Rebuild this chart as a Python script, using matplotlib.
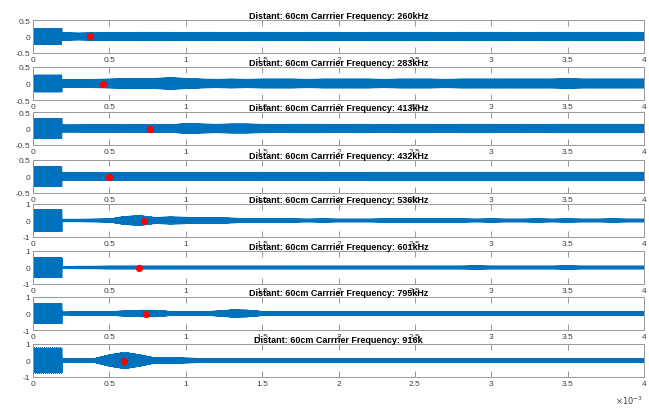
import numpy as np
import matplotlib.pyplot as plt

plt.rcParams['font.family'] = ['Liberation Sans', 'DejaVu Sans']
plt.rcParams['axes.unicode_minus'] = False

# carrier frequencies (kHz) and title tags
carriers = [260, 283, 413, 432, 536, 601, 795, 916]
tags = ['260kHz', '283kHz', '413kHz', '432kHz', '536kHz', '601kHz', '795kHz', '916k']

# amplitude of the first burst (0 - 0.19 ms)
burst_amp = [0.25, 0.26, 0.31, 0.31, 0.66, 0.62, 0.62, 0.76]
burst_end = 0.19  # ms

# envelope after the burst, one value every 0.1 ms from 0.2 ms to 4.0 ms
env1 = [0.12, 0.11, 0.12, 0.12, 0.12, 0.13, 0.13, 0.13, 0.12, 0.13,
        0.13, 0.12, 0.13, 0.13, 0.13, 0.12, 0.13, 0.13, 0.13, 0.12,
        0.13, 0.13, 0.13, 0.13, 0.13, 0.12, 0.13, 0.13, 0.13, 0.13,
        0.12, 0.13, 0.13, 0.13, 0.13, 0.13, 0.13, 0.13, 0.13]
env2 = [0.12, 0.12, 0.13, 0.14, 0.15, 0.15, 0.16, 0.18, 0.16, 0.14,
        0.13, 0.14, 0.13, 0.14, 0.14, 0.14, 0.13, 0.14, 0.14, 0.14,
        0.14, 0.13, 0.14, 0.14, 0.14, 0.13, 0.14, 0.14, 0.14, 0.14,
        0.14, 0.14, 0.14, 0.15, 0.14, 0.14, 0.14, 0.14, 0.14]
env3 = [0.11, 0.11, 0.12, 0.12, 0.11, 0.12, 0.12, 0.12, 0.15, 0.14,
        0.13, 0.14, 0.14, 0.13, 0.12, 0.13, 0.13, 0.13, 0.12, 0.13,
        0.13, 0.12, 0.13, 0.13, 0.13, 0.12, 0.13, 0.13, 0.13, 0.12,
        0.13, 0.12, 0.13, 0.13, 0.13, 0.13, 0.13, 0.13, 0.13]
env4 = [0.11, 0.12, 0.12, 0.12, 0.12, 0.12, 0.12, 0.12, 0.12, 0.12,
        0.12, 0.12, 0.12, 0.13, 0.12, 0.12, 0.12, 0.13, 0.12, 0.12,
        0.13, 0.13, 0.13, 0.13, 0.13, 0.13, 0.13, 0.13, 0.13, 0.13,
        0.13, 0.13, 0.13, 0.13, 0.13, 0.13, 0.13, 0.13, 0.13]
env5 = [0.08, 0.08, 0.09, 0.10, 0.25, 0.30, 0.19, 0.22, 0.20, 0.17,
        0.18, 0.15, 0.12, 0.11, 0.10, 0.10, 0.09, 0.10, 0.09, 0.09,
        0.09, 0.10, 0.11, 0.12, 0.13, 0.12, 0.10, 0.09, 0.10, 0.09,
        0.09, 0.10, 0.09, 0.10, 0.09, 0.09, 0.10, 0.09, 0.09]
env6 = [0.07, 0.08, 0.08, 0.09, 0.09, 0.09, 0.09, 0.09, 0.09, 0.09,
        0.09, 0.09, 0.09, 0.09, 0.09, 0.09, 0.09, 0.09, 0.09, 0.09,
        0.09, 0.09, 0.09, 0.09, 0.09, 0.09, 0.09, 0.10, 0.09, 0.09,
        0.09, 0.09, 0.09, 0.10, 0.09, 0.09, 0.09, 0.09, 0.09]
env7 = [0.09, 0.10, 0.11, 0.12, 0.16, 0.20, 0.20, 0.13, 0.12, 0.11,
        0.15, 0.22, 0.21, 0.13, 0.11, 0.10, 0.11, 0.10, 0.11, 0.10,
        0.10, 0.10, 0.11, 0.10, 0.10, 0.10, 0.11, 0.10, 0.10, 0.10,
        0.11, 0.10, 0.11, 0.10, 0.10, 0.10, 0.10, 0.10, 0.10]
env8 = [0.10, 0.10, 0.12, 0.35, 0.50, 0.35, 0.16, 0.17, 0.15, 0.13,
        0.12, 0.13, 0.11, 0.12, 0.11, 0.11, 0.11, 0.13, 0.11, 0.10,
        0.11, 0.10, 0.11, 0.10, 0.11, 0.10, 0.11, 0.10, 0.11, 0.10,
        0.11, 0.10, 0.11, 0.10, 0.11, 0.10, 0.11, 0.10, 0.11]
envelopes = [env1, env2, env3, env4, env5, env6, env7, env8]

# red marker positions (ms, value)
mark_x = [0.375, 0.458, 0.768, 0.50, 0.729, 0.696, 0.74, 0.596]
mark_y = [0.02, 0.0, 0.0, 0.0, 0.0, 0.0, 0.0, 0.0]

ylims = [0.5, 0.5, 0.5, 0.5, 1, 1, 1, 1]

fs = 10e6
t = np.arange(0, 4e-3 + 1 / fs, 1 / fs)
knots = np.arange(0.2, 4.01, 0.1)

fig = plt.figure(figsize=(6.49, 4.10), dpi=100)

tops = [21, 68, 113, 161, 205, 252, 298, 345]
H = 410.0
left = 33 / 649.0
width = (644 - 33) / 649.0
blue = '#0072BD'

for i in range(8):
    ax = fig.add_axes([left, 1 - (tops[i] + 33) / H, width, 33 / H])
    env = np.where(t * 1e3 < burst_end, burst_amp[i],
                   np.interp(t * 1e3, knots, envelopes[i]))
    sig = env * np.sin(2 * np.pi * carriers[i] * 1e3 * t)
    ax.plot(t, sig, color=blue, lw=0.5)
    ax.plot(mark_x[i] * 1e-3, mark_y[i], 'o', color='red', ms=4.2, zorder=5)

    ax.set_xlim(0, 4e-3)
    lim = ylims[i]
    ax.set_ylim(-lim, lim)
    ax.set_yticks([-lim, 0, lim])
    ax.set_yticklabels(['-0.5', '0', '0.5'] if lim == 0.5 else ['-1', '0', '1'])
    ax.set_xticks(np.arange(0, 4.01e-3, 0.5e-3))
    ax.set_xticklabels(['0', '0.5', '1', '1.5', '2', '2.5', '3', '3.5', '4'])
    ax.tick_params(direction='in', length=4, width=0.6, color='#888888',
                   labelsize=6, labelcolor='#404040', pad=2,
                   top=True, right=True)
    for s in ax.spines.values():
        s.set_color('#999999')
        s.set_linewidth(0.7)
    ax.set_title('Distant: 60cm Carrrier Frequency: ' + tags[i],
                 fontsize=6.5, fontweight='bold', pad=1.5)

fig.text(643 / 649.0, 0.008, r'$\times10^{-3}$', ha='right', va='bottom',
         fontsize=6, color='#404040')

fig.savefig('out.png', dpi=100)
